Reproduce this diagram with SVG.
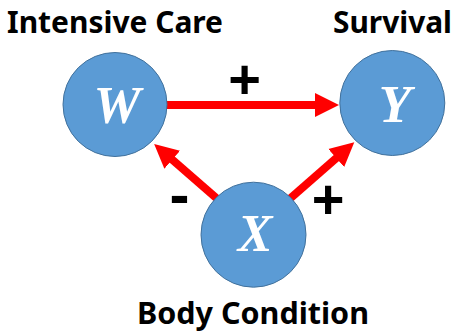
<svg xmlns="http://www.w3.org/2000/svg" width="454" height="332" viewBox="0 0 454 332">
<style>
.node{fill:#5B9BD5;stroke:#41719C;stroke-width:1}
.var{font-family:"Liberation Serif",serif;font-weight:bold;font-style:italic;fill:#FFFFFF;text-anchor:middle}
.label{font-family:"Noto Sans","Liberation Sans",Arial,sans-serif;font-weight:bold;fill:#000000;font-size:30px}
.sign{font-family:"Liberation Sans",Arial,sans-serif;font-weight:bold;fill:#000000;text-anchor:middle}
.edge{stroke:#FF0000;stroke-width:8;fill:none;marker-end:url(#head)}
</style>
<defs>
<marker id="head" markerUnits="userSpaceOnUse" markerWidth="25" markerHeight="25" refX="1" refY="12" orient="auto" viewBox="0 0 25 24">
<path d="M0,0 L24,12 L0,24 z" fill="#FF0000"/>
</marker>
</defs>
<g id="connectors">
<line class="edge" x1="160" y1="105" x2="316" y2="105"/>
<line class="edge" x1="222" y1="203" x2="171.5" y2="159.1"/>
<line class="edge" x1="285" y1="203" x2="337" y2="157.4"/>
</g>
<g id="node-W">
<circle class="node" cx="115" cy="104.5" r="52"/>
<text class="var" x="117" y="123" font-size="53">W</text>
</g>
<g id="node-Y">
<circle class="node" cx="392.3" cy="103" r="52.5"/>
<text class="var" x="395" y="122" font-size="53">Y</text>
</g>
<g id="node-X">
<circle class="node" cx="253.5" cy="234.7" r="52.5"/>
<text class="var" x="255" y="250.5" font-size="52">X</text>
</g>
<g id="labels">
<text class="label" x="7" y="33" textLength="216" lengthAdjust="spacingAndGlyphs">Intensive Care</text>
<text class="label" x="333" y="33" textLength="119" lengthAdjust="spacingAndGlyphs">Survival</text>
<text class="label" x="137" y="323.5" font-size="27" textLength="232" lengthAdjust="spacingAndGlyphs">Body Condition</text>
<text class="sign" x="244.5" y="97.5" font-size="56">+</text>
<text class="sign" x="328" y="217.5" font-size="56">+</text>
<text class="sign" x="179.5" y="215" font-size="60">-</text>
</g>
</svg>
